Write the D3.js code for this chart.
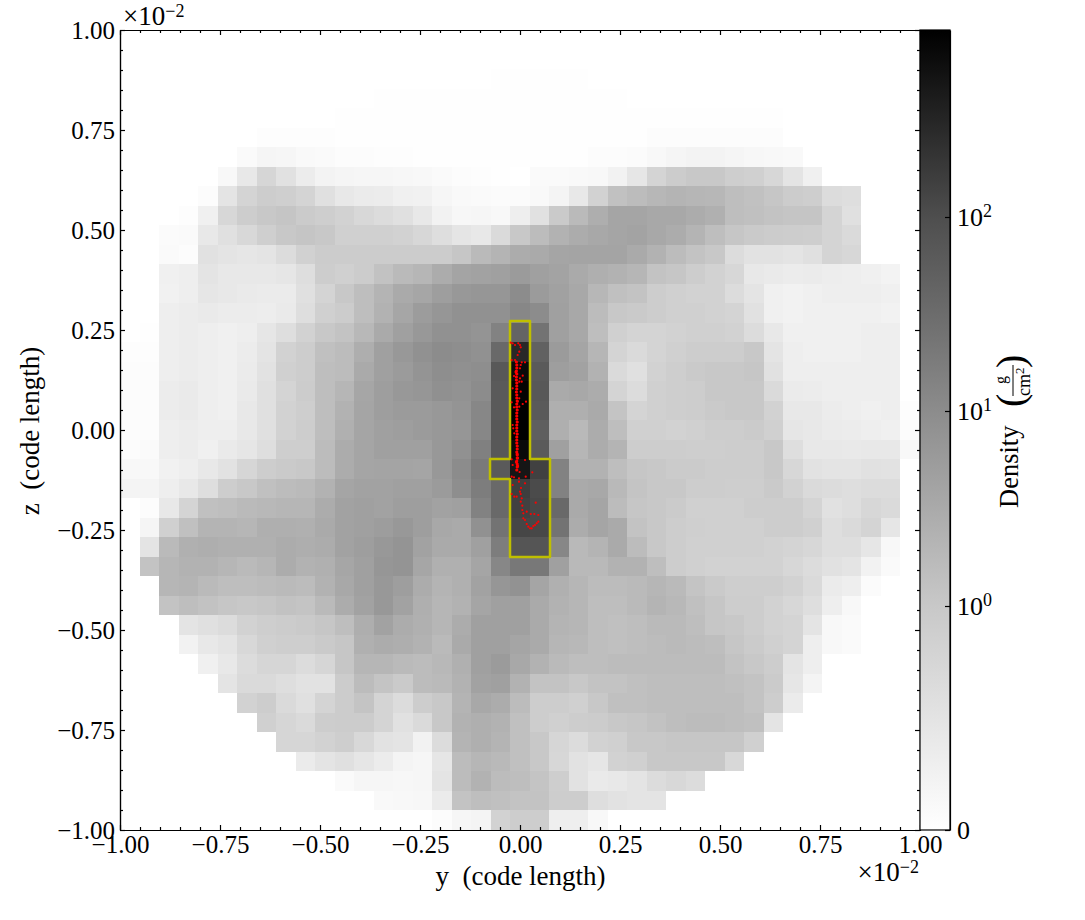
<!DOCTYPE html>
<html><head><meta charset="utf-8">
<script src="https://cdn.jsdelivr.net/npm/d3@7"></script>
<style>html,body{margin:0;padding:0;background:#fff}svg{display:block}text{font-family:"Liberation Serif",serif;fill:#000}</style>
</head><body><svg id="c" width="1085" height="920"></svg>
<script>
const shadeRows = [
[255,255,255,255,255,255,255,255,255,255,255,255,255,255,255,255,255,255,255,255,255, 255,255,255,255,255,255,255,255,255,255,255,255,255,255,255,255,255,255,255,255],
[255,255,255,255,255,255,255,255,255,255,255,255,255,255,255,255,255,255,255,255,255, 255,255,255,255,255,255,255,255,255,255,255,255,255,255,255,255,255,255,255,255],
[255,255,255,255,255,255,255,255,255,255,255,255,255,255,255,255,255,255,255,254,254, 254,254,254,255,255,255,255,255,255,255,255,255,255,255,255,255,255,255,255,255],
[255,255,255,255,255,255,255,255,255,255,255,255,255,254,254,254,254,254,254,254,254, 254,254,254,254,254,255,255,255,255,255,255,255,255,255,255,255,255,255,255,255],
[255,255,255,255,255,255,255,255,255,255,255,254,254,254,254,254,254,254,254,254,254, 254,254,254,254,254,254,254,254,254,254,254,254,254,255,255,255,255,255,255,255],
[255,255,255,255,255,255,255,253,253,253,253,254,254,254,254,254,254,254,254,254,254, 254,254,254,254,254,254,252,252,252,252,252,252,252,255,255,255,255,255,255,255],
[255,255,255,255,255,255,250,245,246,249,250,252,252,253,253,254,254,254,254,254,254, 254,254,254,252,252,251,248,245,243,243,245,247,248,249,255,255,255,255,255,255],
[255,255,255,255,255,248,232,214,225,236,243,245,246,246,247,248,250,252,253,254,255, 250,250,249,248,242,230,212,204,200,200,206,208,215,228,240,255,255,255,255,255],
[255,255,255,255,252,228,212,205,207,212,224,232,235,236,240,241,246,249,250,251,251, 249,244,232,210,193,188,183,180,182,183,190,193,198,204,206,220,222,255,255,255],
[255,255,255,253,240,215,205,200,197,203,206,210,216,220,224,232,242,247,246,248,238, 225,202,186,174,165,165,168,168,172,176,190,192,195,197,197,212,224,255,255,255],
[255,255,251,250,232,224,216,207,200,197,200,208,208,208,210,215,222,229,232,218,200, 188,178,172,168,165,163,168,172,180,190,198,202,204,205,206,212,218,255,255,255],
[255,255,250,252,225,228,230,228,220,209,204,204,204,204,204,204,204,198,186,180,172, 170,165,164,164,164,170,178,188,195,200,220,226,226,228,224,212,215,255,255,255],
[255,255,240,238,228,232,232,232,230,222,205,208,204,194,186,182,172,164,162,160,155, 160,163,170,175,178,182,195,198,205,210,215,232,234,236,235,237,238,240,243,255],
[255,255,241,238,230,232,234,235,235,224,212,200,190,180,170,166,158,152,150,150,140, 155,161,168,183,192,195,205,208,210,210,220,228,240,242,240,238,238,238,240,255],
[255,255,238,236,234,236,236,237,234,222,208,204,190,178,166,156,150,145,145,145,135, 140,160,168,188,200,202,205,208,208,210,212,225,240,242,240,240,240,240,242,255],
[255,254,238,236,238,240,238,230,222,210,200,195,184,170,160,152,145,145,148,130,100, 115,160,168,190,208,212,212,210,208,208,210,220,232,240,240,240,240,238,238,255],
[253,253,238,236,238,240,236,228,210,205,192,188,174,160,152,145,140,142,145,105,40, 97,155,165,182,212,218,212,208,205,205,205,200,228,238,240,240,240,238,238,255],
[252,252,238,236,238,240,235,226,208,205,190,188,170,160,155,148,142,144,142,88,10, 90,158,162,178,218,224,210,206,202,200,200,198,225,238,238,238,238,238,238,255],
[252,252,236,234,238,240,234,224,212,204,190,182,166,158,152,150,144,146,140,90,3, 88,170,168,172,212,220,208,206,205,200,200,200,218,235,236,238,238,238,238,255],
[252,252,236,234,238,240,232,224,210,206,190,178,165,158,155,155,152,148,135,90,0, 90,175,175,170,196,212,208,206,205,202,200,200,210,232,232,236,238,240,238,253],
[252,252,238,236,238,238,232,224,210,205,190,176,165,160,158,155,152,150,135,88,0, 95,175,185,172,190,208,208,210,208,205,205,203,208,230,232,235,236,238,240,252],
[252,250,238,236,240,234,230,222,206,206,188,172,165,160,160,160,152,145,128,88,10, 90,160,182,172,180,205,205,205,206,206,205,205,200,222,232,232,233,232,232,248],
[248,248,241,238,232,226,214,205,202,200,188,172,165,164,164,165,152,140,122,90,22, 65,130,178,178,190,198,200,203,203,205,205,205,200,215,226,228,228,225,226,255],
[244,244,238,232,222,205,200,192,188,186,178,165,162,162,160,160,155,142,125,105,62, 75,130,170,168,185,196,200,200,205,205,206,206,202,210,218,220,222,220,220,255],
[255,252,232,212,192,190,186,184,182,182,172,162,160,162,158,158,162,160,130,105,65, 72,105,170,165,188,198,200,203,208,208,208,205,205,205,212,225,222,215,218,255],
[255,245,208,192,180,180,182,175,175,176,170,162,160,157,152,158,168,170,145,115,70, 72,115,172,165,170,195,200,205,207,208,208,208,205,205,208,222,218,212,230,255],
[255,228,186,176,174,176,176,176,172,174,172,162,158,152,148,162,170,170,160,125,85, 85,135,185,180,170,188,200,205,208,208,208,208,210,212,215,222,222,230,248,255],
[255,195,182,178,178,182,186,182,172,178,176,166,160,150,148,166,176,176,165,135,120, 120,160,185,185,178,178,190,205,208,210,210,210,210,215,220,225,228,242,250,255],
[255,255,182,180,186,190,190,188,186,188,178,168,160,152,158,172,180,176,162,150,146, 165,176,182,188,188,186,182,186,196,202,206,206,206,210,218,235,238,251,255,255],
[255,255,195,190,194,198,200,198,194,196,186,172,162,152,162,175,182,178,165,160,160, 170,178,182,190,190,186,180,184,192,198,205,205,210,215,222,238,248,255,255,255],
[255,255,255,228,224,220,210,206,204,202,198,190,174,162,172,176,182,172,160,160,160, 170,180,182,190,192,190,186,186,190,198,200,205,210,212,228,248,250,255,255,255],
[255,255,255,242,232,228,216,208,206,206,202,198,176,172,174,178,186,170,160,160,165, 170,182,184,190,192,190,188,186,188,190,198,203,208,212,238,248,250,255,255,255],
[255,255,255,255,240,232,220,214,214,220,214,198,182,182,186,188,184,176,160,155,168, 178,186,190,190,188,188,188,188,188,188,195,200,205,228,238,255,255,255,255,255],
[255,255,255,255,255,228,218,218,222,226,226,204,188,196,202,188,186,178,162,160,178, 195,195,200,195,195,192,190,190,190,190,192,195,203,230,244,255,255,255,255,255],
[255,255,255,255,255,255,210,205,218,224,212,204,196,212,220,205,200,180,168,172,188, 205,205,208,200,192,192,190,190,190,190,190,195,205,235,255,255,255,255,255,255],
[255,255,255,255,255,255,255,208,214,218,205,204,204,212,225,218,200,178,175,178,192, 205,208,205,204,200,198,194,190,188,188,190,192,228,255,255,255,255,255,255,255],
[255,255,255,255,255,255,255,255,214,214,210,206,216,226,228,242,220,180,175,180,192, 200,214,220,210,208,200,200,198,198,198,198,208,255,255,255,255,255,255,255,255],
[255,255,255,255,255,255,255,255,255,235,228,224,230,236,244,246,230,188,182,185,192, 200,215,226,230,210,208,200,200,200,200,216,255,255,255,255,255,255,255,255,255],
[255,255,255,255,255,255,255,255,255,255,255,250,246,246,247,246,228,188,178,188,190, 196,206,226,234,232,228,220,216,220,255,255,255,255,255,255,255,255,255,255,255],
[255,255,255,255,255,255,255,255,255,255,255,255,255,249,248,247,235,195,190,192,195, 195,205,205,222,226,228,228,255,255,255,255,255,255,255,255,255,255,255,255,255],
[255,255,255,255,255,255,255,255,255,255,255,255,255,255,255,255,252,246,244,210,205, 205,238,238,248,255,255,255,255,255,255,255,255,255,255,255,255,255,255,255,255]
];

// Outline drawn over the densest cells (code length x 1e-2)
const outlineY = [-0.025,0.025,0.025,0.075,0.075,-0.025,-0.025,-0.075,-0.075,-0.025];
const outlineZ = [0.2725,0.2725,-0.0725,-0.0725,-0.3175,-0.3175,-0.1225,-0.1225,-0.0725,-0.0725];

// Particle stream along the central column
const streamY = [-0.009,-0.008,-0.008,-0.009,-0.008,-0.009,-0.009,-0.008,-0.008,-0.008,-0.009,-0.008,-0.008,-0.007,-0.008,-0.008,-0.007,-0.008,-0.008,-0.008,-0.007,-0.008,-0.008,-0.008,-0.007,-0.008,-0.008,-0.008,-0.007,-0.007,-0.008,-0.007,-0.007,-0.008,-0.007,-0.007,-0.008,-0.007,-0.006,-0.009,-0.006];
const streamZ = [0.17,0.1625,0.155,0.1475,0.14,0.1325,0.125,0.1175,0.11,0.1025,0.095,0.0875,0.08,0.0725,0.065,0.0575,0.05,0.0425,0.035,0.0275,0.02,0.0125,0.005,-0.0025,-0.01,-0.0175,-0.025,-0.0325,-0.04,-0.0475,-0.055,-0.0625,-0.07,-0.0775,-0.085,-0.0925,-0.1,-0.06,-0.07,-0.08,-0.09];
// Scattered particles
const scatterY = [-0.0233,-0.0183,-0.0043,0,-0.0125,0.0018,-0.0018,-0.0058,-0.0125,-0.0208,0.0043,0.0125,0.0018,0,0.0068,-0.015,0,0.0043,-0.0018,-0.0183,0.0018,-0.0018,-0.0058,-0.0208,0.015,0.0068,-0.0018,-0.015,-0.0183,-0.0168,-0.0143,-0.0108,-0.0095,-0.0108,-0.0095,-0.0208,-0.0183,0.0125,0.0308,0.0143,-0.0208,-0.015,-0.0183,-0.0025,-0.0025,0.0125,0,0.0018,-0.0208,-0.0143,-0.0083,0.0043,0.0018,0.0393,0.0058,0.0058,0.0168,0.0083,0.0268,0.0358,0.0458,0.0083,0.0125,0.0458,0.0418,0.0168,0.0375,0.0208,0.025,0.0293,0.0333,0.0025,-0.001];
const scatterZ = [0.2183,0.2168,0.2168,0.2125,0.2125,0.2068,0.1958,0.1875,0.175,0.175,0.1693,0.1693,0.1625,0.1543,0.1358,0.135,0.1293,0.1208,0.1208,0.1043,0.0958,0.0793,0.0708,0.0693,0.0708,0.065,0.0583,0.0568,0.0125,0.0043,-0.0083,0.1443,0.1443,0.1458,0.143,-0.0733,-0.0875,-0.075,-0.1058,-0.1168,-0.1168,-0.1183,-0.1375,-0.1208,-0.1293,-0.1333,-0.1543,-0.16,-0.16,-0.1668,-0.1668,-0.1708,-0.1793,-0.1818,-0.1893,-0.2,-0.2043,-0.2083,-0.21,-0.21,-0.2125,-0.2208,-0.225,-0.2293,-0.2333,-0.235,-0.2375,-0.2418,-0.2458,-0.2458,-0.24,-0.145,-0.105];

const majorTicks = [-1,-0.75,-0.5,-0.25,0,0.25,0.5,0.75,1];
const minorTicks = [-0.95,-0.9,-0.85,-0.8,-0.7,-0.65,-0.6,-0.55,-0.45,-0.4,-0.35,-0.3,-0.2,-0.15,-0.1,-0.05,0.05,0.1,0.15,0.2,0.3,0.35,0.4,0.45,0.55,0.6,0.65,0.7,0.8,0.85,0.9,0.95];
const barValues = [0,1,10,100,920];
const barPositions = [830,606,411,217,30];
const barTicks = [0,1,10,100];
const barLabels = [["0",""],["10","0"],["10","1"],["10","2"]];
const barShades = [255,200,140,110,78,0];
const barShadeOffsets = [0,0.28,0.524,0.6375,0.766,1];

const svg = d3.select("#c");
const L=120,R=920,T=30,B=830,FS=25;
const x = d3.scaleLinear().domain([-1,1]).range([L,R]);
const y = d3.scaleLinear().domain([-1,1]).range([B,T]);
const cols = d3.scaleBand().domain(d3.range(41)).range([L,R]);
const rows = d3.scaleBand().domain(d3.range(41)).range([T,B]);
const shade = d3.scaleLinear().domain([0,255]).range(["#000","#fff"]);

svg.append("g").attr("shape-rendering","crispEdges").selectAll("g").data(shadeRows).join("g")
  .attr("transform",(d,i)=>`translate(0,${rows(i)})`)
  .selectAll("rect").data(d=>d).join("rect")
  .attr("x",(d,j)=>cols(j)).attr("width",cols.bandwidth()+0.5).attr("height",rows.bandwidth()+0.5)
  .attr("fill",d=>shade(d));

const outline = d3.line().x(d=>x(d[0])).y(d=>y(d[1]));
svg.append("path").attr("d",outline(d3.zip(outlineY,outlineZ))+"Z")
  .attr("fill","none").attr("stroke","#bfbf00").attr("stroke-width",2.5).attr("stroke-linejoin","round");

svg.append("g").attr("fill","#f00").selectAll("circle").data(d3.zip(streamY,streamZ)).join("circle")
  .attr("cx",d=>x(d[0])).attr("cy",d=>y(d[1])).attr("r",1.6);
svg.append("g").attr("fill","#f00").selectAll("circle").data(d3.zip(scatterY,scatterZ)).join("circle")
  .attr("cx",d=>x(d[0])).attr("cy",d=>y(d[1])).attr("r",1.1);

// Axes: inward ticks on all sides
function style(g){g.selectAll("path,line").attr("stroke","#000").attr("stroke-width",1.2);
  g.selectAll("text").attr("font-size",FS).attr("font-family","Liberation Serif").attr("fill","#000");}
const fmt=d3.format(".2f");
function draw(axis,scale,tx,ty,labels){
  svg.append("g").attr("transform",`translate(${tx},${ty})`)
    .call(axis(scale).tickValues(minorTicks).tickSizeInner(-3).tickSizeOuter(0).tickFormat("")).call(style);
  svg.append("g").attr("transform",`translate(${tx},${ty})`)
    .call(axis(scale).tickValues(majorTicks).tickSizeInner(-5).tickSizeOuter(0).tickPadding(5).tickFormat(labels?fmt:"")).call(style);
}
draw(d3.axisBottom,x,0,B,true);
draw(d3.axisTop,x,0,T,false);
draw(d3.axisLeft,y,L,0,true);
draw(d3.axisRight,y,R,0,false);

// Colour bar
const grad = svg.append("defs").append("linearGradient").attr("id","bar").attr("x1",0).attr("x2",0).attr("y1",1).attr("y2",0);
grad.selectAll("stop").data(d3.zip(barShadeOffsets,barShades)).join("stop")
  .attr("offset",d=>d[0]).attr("stop-color",d=>shade(d[1]));
svg.append("rect").attr("x",R).attr("y",T).attr("width",30).attr("height",B-T).attr("fill","url(#bar)");
const barScale = d3.scaleLinear().domain(barValues).range(barPositions);
svg.append("g").attr("transform","translate(950,0)")
  .call(d3.axisRight(barScale).tickValues(barTicks).tickSizeInner(-5).tickSizeOuter(0).tickFormat("")).call(style);
svg.append("rect").attr("x",R).attr("y",T).attr("width",30).attr("height",B-T).attr("fill","none").attr("stroke","#000").attr("stroke-width",1.2);
barTicks.forEach((v,i)=>{
  const t=svg.append("text").attr("x",957).attr("y",barScale(v)+9).attr("font-size",FS+1);
  t.append("tspan").text(barLabels[i][0]);
  if(barLabels[i][1]) t.append("tspan").attr("dy",-9).attr("font-size",18).text(barLabels[i][1]);
});

// Offset labels
function offset(xp,yp,anchor){
  const t=svg.append("text").attr("x",xp).attr("y",yp).attr("font-size",27).attr("text-anchor",anchor);
  t.append("tspan").text("\u00d710");
  t.append("tspan").attr("dy",-8).attr("font-size",18).text("\u22122");
}
offset(123,25,"start");
offset(919,881,"end");

// Axis titles
svg.append("text").attr("x",520.5).attr("y",885).attr("text-anchor","middle").attr("font-size",27).text("y\u00a0\u00a0(code length)");
svg.append("text").attr("transform","translate(39,431) rotate(-90)").attr("text-anchor","middle").attr("font-size",27).text("z\u00a0\u00a0(code length)");

const lab = svg.append("g").attr("transform","translate(1018,0) rotate(-90)");
lab.append("text").attr("x",-508).attr("y",0).attr("font-size",26.5).text("Density");
lab.append("text").attr("x",-407).attr("y",6).attr("font-size",40).text("(");
lab.append("text").attr("x",-368).attr("y",6).attr("font-size",40).text(")");
lab.append("line").attr("x1",-396).attr("x2",-365).attr("y1",-5).attr("y2",-5).attr("stroke","#000").attr("stroke-width",1);
lab.append("text").attr("x",-380).attr("y",-12).attr("text-anchor","middle").attr("font-size",16).text("g");
const cm=lab.append("text").attr("x",-396).attr("y",12).attr("font-size",18);
cm.append("tspan").text("cm");
cm.append("tspan").attr("dy",-6).attr("font-size",13).text("2");
</script></body></html>
